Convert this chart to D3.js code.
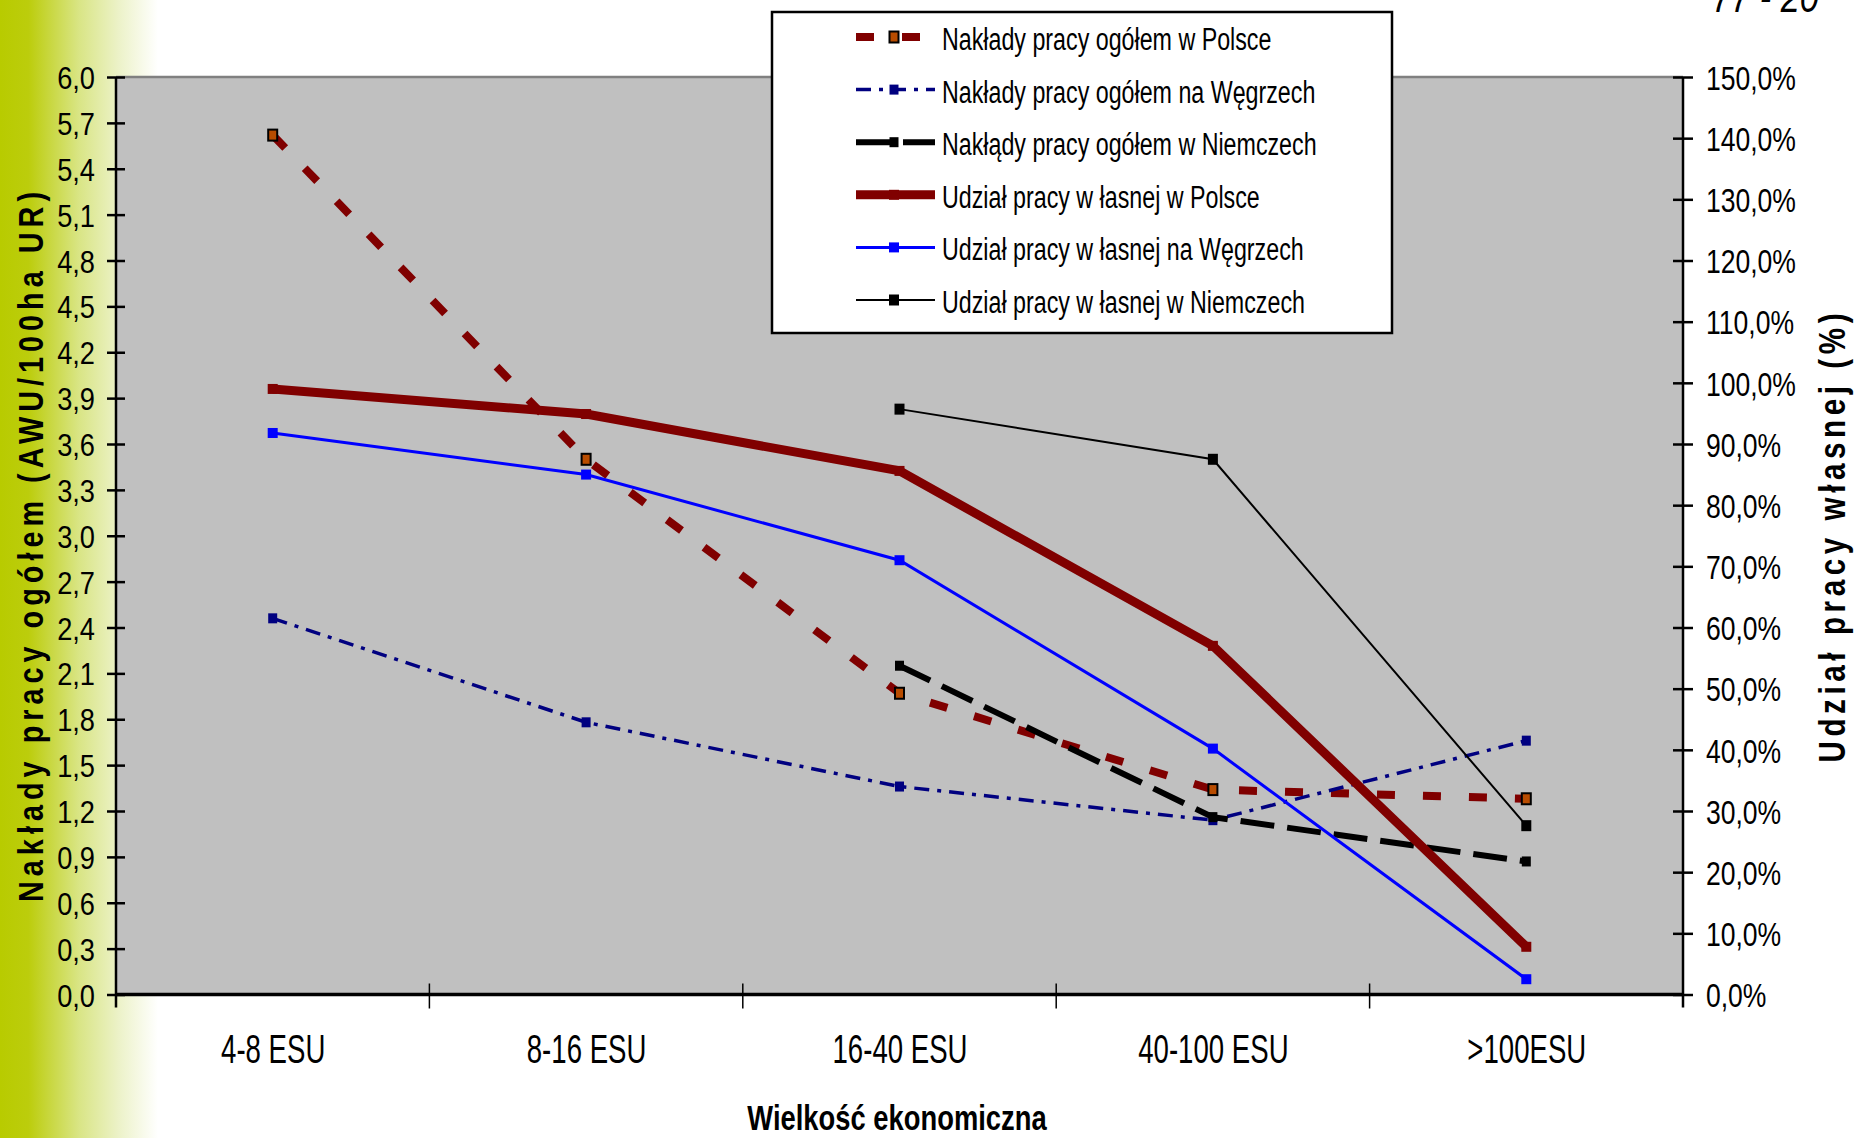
<!DOCTYPE html>
<html>
<head>
<meta charset="utf-8">
<script src="https://cdn.jsdelivr.net/npm/d3@7"></script>
<style>
  html, body { margin: 0; padding: 0; background: #fff; }
  svg { display: block; font-family: "Liberation Sans", Arial, sans-serif; }
</style>
</head>
<body>
<svg id="chart" width="1856" height="1138"></svg>
<script>
// Farm size classes (economic size units)
const categories = ["4-8 ESU", "8-16 ESU", "16-40 ESU", "40-100 ESU", ">100ESU"];

// Total labour input, AWU per 100 ha of agricultural land (left axis)
const nakladyPolska  = [5.62, 3.50, 1.97, 1.34, 1.28];
const nakladyWegry   = [2.46, 1.78, 1.36, 1.14, 1.66];
const nakladyNiemcy  = [null, null, 2.15, 1.16, 0.87];

// Share of own (family) labour, % (right axis)
const udzialPolska   = [99.0, 94.9, 85.6, 57.0, 7.8];
const udzialWegry    = [91.8, 85.0, 71.0, 40.2, 2.5];
const udzialNiemcy   = [null, null, 95.7, 87.5, 27.6];

// Axis ticks
const leftTicks  = [0, 0.3, 0.6, 0.9, 1.2, 1.5, 1.8, 2.1, 2.4, 2.7, 3.0, 3.3, 3.6, 3.9, 4.2, 4.5, 4.8, 5.1, 5.4, 5.7, 6.0];
const rightTicks = [0, 10, 20, 30, 40, 50, 60, 70, 80, 90, 100, 110, 120, 130, 140, 150];

const legendLabels = [
  "Nakłady pracy ogółem w  Polsce",
  "Nakłady pracy ogółem na Węgrzech",
  "Nakłądy pracy ogółem w  Niemczech",
  "Udział pracy w łasnej w  Polsce",
  "Udział pracy w łasnej na Węgrzech",
  "Udział pracy w łasnej w  Niemczech"
];

const svg = d3.select("#chart");

// plot frame
const L = 116, R = 1683, T = 77, B = 994.5;

// ---- left decorative green strip ----
const defs = svg.append("defs");
const grad = defs.append("linearGradient").attr("id", "strip").attr("x1", 0).attr("x2", 1).attr("y1", 0).attr("y2", 0);
[[0, "#b8cb00"], [0.18, "#bccd0c"], [0.5, "#d9e585"], [0.75, "#ecf2c8"], [1, "#ffffff"]]
  .forEach(([o, c]) => grad.append("stop").attr("offset", o).attr("stop-color", c));
svg.append("rect").attr("x", 0).attr("y", 0).attr("width", 158).attr("height", 1138).attr("fill", "url(#strip)");

// ---- scales ----
const x = d3.scalePoint().domain(categories).range([L, R]).padding(0.5);
const xb = d3.scaleBand().domain(categories).range([L, R]);
const yL = d3.scaleLinear().domain([0, 6]).range([B, T]);
const yR = d3.scaleLinear().domain([0, 150]).range([B, T]);

// plot background
svg.append("rect").attr("x", L).attr("y", T).attr("width", R - L).attr("height", B - T).attr("fill", "#c0c0c0");
svg.append("line").attr("x1", L).attr("x2", R).attr("y1", T).attr("y2", T).attr("stroke", "#808080").attr("stroke-width", 2.5);

const comma = v => v.toFixed(1).replace(".", ",");

// ---- left axis ----
const sxL = 0.85;
const gL = svg.append("g").attr("transform", `translate(${L},0)`)
  .call(d3.axisLeft(yL).tickValues(leftTicks).tickFormat(comma).tickSizeOuter(0).tickSizeInner(9));
gL.select(".domain").attr("d", `M0,${T}V${B + 13}`).attr("stroke", "#000").attr("stroke-width", 2.5);
gL.selectAll(".tick line").attr("x1", -9).attr("x2", 9).attr("stroke", "#000").attr("stroke-width", 2.5);
gL.selectAll(".tick text")
  .attr("font-size", 32).attr("font-family", "Liberation Sans, Arial, sans-serif").attr("fill", "#000")
  .attr("x", -21 / sxL).attr("dy", "0.36em").attr("transform", `scale(${sxL},1)`);

// ---- right axis ----
const sxR = 0.78;
const gR = svg.append("g").attr("transform", `translate(${R},0)`)
  .call(d3.axisRight(yR).tickValues(rightTicks).tickFormat(d => comma(d) + "%").tickSizeOuter(0).tickSizeInner(10));
gR.select(".domain").attr("d", `M0,${T}V${B + 13}`).attr("stroke", "#000").attr("stroke-width", 2.5);
gR.selectAll(".tick line").attr("x1", -10).attr("x2", 10).attr("stroke", "#000").attr("stroke-width", 2.5);
gR.selectAll(".tick text")
  .attr("font-size", 34).attr("font-family", "Liberation Sans, Arial, sans-serif").attr("fill", "#000")
  .attr("x", 23 / sxR).attr("dy", "0.36em").attr("transform", `scale(${sxR},1)`);

// ---- category axis ----
const sxX = 0.69;
const gX = svg.append("g").attr("transform", `translate(0,${B})`)
  .call(d3.axisBottom(x).tickSize(0));
gX.select(".domain").remove();
gX.selectAll(".tick text")
  .attr("font-size", 40).attr("font-family", "Liberation Sans, Arial, sans-serif").attr("fill", "#000")
  .attr("y", 69).attr("dy", 0).attr("transform", `scale(${sxX},1)`);
svg.append("line").attr("x1", L).attr("x2", R).attr("y1", B).attr("y2", B).attr("stroke", "#000").attr("stroke-width", 3.5);
svg.append("g").selectAll("line").data(categories.slice(1)).join("line")
  .attr("x1", d => xb(d)).attr("x2", d => xb(d)).attr("y1", B - 11).attr("y2", B + 14)
  .attr("stroke", "#000").attr("stroke-width", 1.5);

// ---- axis titles ----
svg.append("g").attr("transform", `translate(897,1130) scale(0.76,1)`)
  .append("text").attr("text-anchor", "middle").attr("font-size", 36).attr("font-weight", "bold")
  .text("Wielkość ekonomiczna");

// rotated titles: glyphs narrowed along the text direction, gaps widened to the full length
const sT = 0.8;
svg.append("g").attr("transform", `translate(43,547) rotate(-90) scale(${sT},1)`)
  .append("text").attr("text-anchor", "middle").attr("font-size", 36).attr("font-weight", "bold")
  .attr("textLength", 710 / sT).attr("lengthAdjust", "spacing")
  .text("Nakłady pracy ogółem  (AWU/100ha UR)");

svg.append("g").attr("transform", `translate(1845,538) rotate(-90) scale(${sT},1)`)
  .append("text").attr("text-anchor", "middle").attr("font-size", 37).attr("font-weight", "bold")
  .attr("textLength", 449 / sT).attr("lengthAdjust", "spacing")
  .text("Udział pracy własnej (%)");

// page number fragment in the corner
svg.append("g").attr("transform", "translate(1712,12) scale(0.78,1)")
  .append("text").attr("font-size", 44).attr("font-style", "italic").text("77 - 20");

// ---- series ----
const series = [
  { vals: nakladyPolska, y: yL, color: "#800000", width: 8, dash: "18,28", marker: { size: [9, 11], fill: "#b84c00", stroke: "#000", sw: 2 } },
  { vals: nakladyWegry,  y: yL, color: "#000080", width: 3.5, dash: "15,8,4,8", marker: { size: [9, 10], fill: "#000080" } },
  { vals: nakladyNiemcy, y: yL, color: "#000000", width: 6, dash: "34,13", marker: { size: [9, 10], fill: "#000" } },
  { vals: udzialPolska,  y: yR, color: "#800000", width: 9, dash: null, marker: { size: [10, 10], fill: "#800000" } },
  { vals: udzialWegry,   y: yR, color: "#0000ff", width: 3, dash: null, marker: { size: [10, 10], fill: "#0000ff" } },
  { vals: udzialNiemcy,  y: yR, color: "#000000", width: 2, dash: null, marker: { size: [10, 11], fill: "#000" } }
];

const plot = svg.append("g");
series.forEach(s => {
  const pts = categories.map((c, i) => ({ c, v: s.vals[i] })).filter(d => d.v != null);
  const line = d3.line().x(d => x(d.c)).y(d => s.y(d.v));
  plot.append("path").attr("d", line(pts)).attr("fill", "none")
    .attr("stroke", s.color).attr("stroke-width", s.width)
    .attr("stroke-dasharray", s.dash).attr("stroke-linejoin", "miter");
  plot.append("g").selectAll("rect").data(pts).join("rect")
    .attr("x", d => x(d.c) - s.marker.size[0] / 2).attr("y", d => s.y(d.v) - s.marker.size[1] / 2)
    .attr("width", s.marker.size[0]).attr("height", s.marker.size[1])
    .attr("fill", s.marker.fill)
    .attr("stroke", s.marker.stroke || "none").attr("stroke-width", s.marker.sw || 0);
});

// ---- legend ----
const lg = svg.append("g");
lg.append("rect").attr("x", 772).attr("y", 12).attr("width", 620).attr("height", 321)
  .attr("fill", "#fff").attr("stroke", "#000").attr("stroke-width", 2.5);
series.forEach((s, i) => {
  const base = 50 + i * 52.6;
  const ly = base - 13;
  lg.append("line").attr("x1", 856).attr("x2", 935).attr("y1", ly).attr("y2", ly)
    .attr("stroke", s.color).attr("stroke-width", s.width).attr("stroke-dasharray", s.dash);
  lg.append("rect").attr("x", 894 - s.marker.size[0] / 2).attr("y", ly - s.marker.size[1] / 2)
    .attr("width", s.marker.size[0]).attr("height", s.marker.size[1])
    .attr("fill", s.marker.fill).attr("stroke", s.marker.stroke || "none").attr("stroke-width", s.marker.sw || 0);
  lg.append("g").attr("transform", `translate(942,${base}) scale(0.75,1)`)
    .append("text").attr("font-size", 31).text(legendLabels[i]);
});
</script>
</body>
</html>
